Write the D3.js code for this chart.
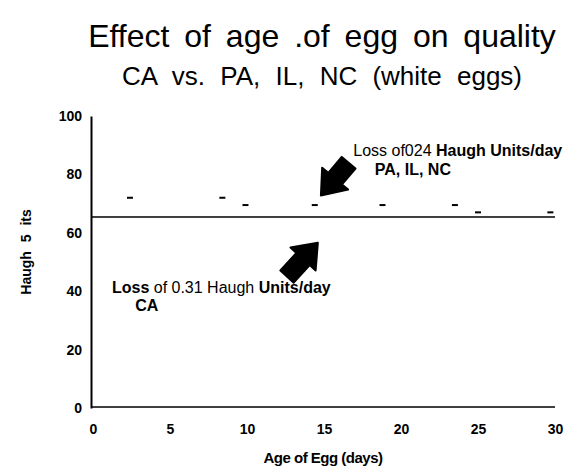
<!DOCTYPE html>
<meta charset="utf-8">
<style>
  body { margin: 0; background: #fff; }
  text { font-family: "Liberation Sans", Arial, sans-serif; fill: #000; }
  .tick text { font-weight: bold; font-size: 14px; }
</style>
<script src="https://cdn.jsdelivr.net/npm/d3@7"></script>
<body>
</body>
<script>
// values
var ageDays = [2.4, 8.4, 9.9, 14.4, 18.8, 23.5, 25.0, 29.7];
var haughUnits = [72, 72, 69.5, 69.5, 69.5, 69.5, 67, 67];
var caLevel = 65.4;
var xTicks = [0, 5, 10, 15, 20, 25, 30];
var yTicks = [0, 20, 40, 60, 80, 100];

var width = 573,
    height = 469;

var svg = d3.select("body").append("svg")
    .attr("width", width)
    .attr("height", height);

var x = d3.scaleLinear().domain([0, 30]).range([93, 555]);
var y = d3.scaleLinear().domain([0, 100]).range([408, 116]);

// titles
svg.append("text")
    .attr("x", 322).attr("y", 47)
    .attr("text-anchor", "middle")
    .style("font-size", "32px")
    .style("word-spacing", "6px")
    .text("Effect of age .of egg on quality");

svg.append("text")
    .attr("x", 322).attr("y", 85)
    .attr("text-anchor", "middle")
    .style("font-size", "26px")
    .style("word-spacing", "8px")
    .text("CA vs. PA, IL, NC (white eggs)");

// axes
var yAxis = svg.append("g")
    .attr("transform", "translate(91,0)")
    .call(d3.axisLeft(y).tickValues(yTicks).tickSize(0).tickPadding(9));
var xAxis = svg.append("g")
    .attr("transform", "translate(0,407)")
    .call(d3.axisBottom(x).tickValues(xTicks).tickSize(0).tickPadding(17));
yAxis.select(".domain").attr("stroke-width", 2);
xAxis.select(".domain").attr("stroke-width", 1.5).attr("d", "M91,0H555");

svg.append("text")
    .attr("transform", "translate(31,252) rotate(-90)")
    .attr("text-anchor", "middle")
    .style("font-size", "14px").style("font-weight", "bold")
    .style("word-spacing", "5px")
    .text("Haugh 5 its");

svg.append("text")
    .attr("x", 323).attr("y", 463)
    .attr("text-anchor", "middle")
    .style("font-size", "15px").style("font-weight", "bold")
    .style("letter-spacing", "-0.5px")
    .text("Age of Egg (days)");

// CA reference line
svg.append("line")
    .attr("x1", 91).attr("x2", x(30))
    .attr("y1", y(caLevel)).attr("y2", y(caLevel))
    .attr("stroke", "#000").attr("stroke-width", 1.5);

// PA, IL, NC points drawn as short dashes
svg.selectAll(".pt").data(ageDays).enter().append("line")
    .attr("class", "pt")
    .attr("x1", function(d) { return x(d) - 3; })
    .attr("x2", function(d) { return x(d) + 3; })
    .attr("y1", function(d, i) { return y(haughUnits[i]); })
    .attr("y2", function(d, i) { return y(haughUnits[i]); })
    .attr("stroke", "#000").attr("stroke-width", 2);

// block arrows: tail -> tip in data units
var drawArrow = function(tail, tip) {
    var x0 = x(tail[0]), y0 = y(tail[1]), x1 = x(tip[0]), y1 = y(tip[1]);
    var len = Math.hypot(x1 - x0, y1 - y0);
    var ang = Math.atan2(y1 - y0, x1 - x0) * 180 / Math.PI;
    var head = 22, shaft = 9, wing = 17;
    var pts = [[0, -shaft], [len - head, -shaft], [len - head, -wing], [len, 0],
               [len - head, wing], [len - head, shaft], [0, shaft]];
    svg.append("polygon")
        .attr("points", pts.map(function(p) { return p.join(","); }).join(" "))
        .attr("transform", "translate(" + x0 + "," + y0 + ") rotate(" + ang + ")")
        .attr("fill", "#000")
        .attr("stroke", "#000").attr("stroke-linejoin", "round").attr("stroke-width", 2);
};
drawArrow([16.6, 84], [14.8, 72.8]);
drawArrow([12.6, 45], [14.6, 56.6]);

// annotations
var note = function(px, py, parts) {
    var t = svg.append("text").attr("x", x(px)).attr("y", y(py))
        .style("font-size", "16px");
    parts.forEach(function(p) {
        t.append("tspan").style("font-weight", p[1] ? "bold" : "normal").text(p[0]);
    });
};
note(16.9, 86.3, [["Loss of024 ", false], ["Haugh Units/day", true]]);
note(18.3, 79.8, [["PA, IL, NC", true]]);
note(1.23, 39.4, [["Loss ", true], ["of 0.31 Haugh ", false], ["Units/day", true]]);
note(2.74, 33.2, [["CA", true]]);
</script>
